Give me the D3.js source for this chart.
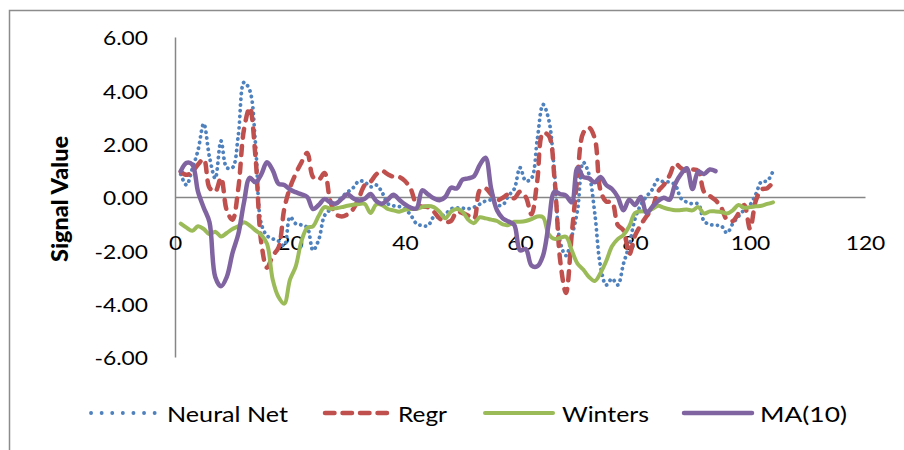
<!DOCTYPE html>
<html>
<head>
<meta charset="utf-8">
<script src="https://cdn.jsdelivr.net/npm/d3@7"></script>
<style>
  body { margin: 0; background: #fff; }
  text { font-family: Lato, "Open Sans", sans-serif; fill: #000; }
</style>
</head>
<body>
<div id="chart"></div>
<script>
// values, one per period (x = 1, 2, 3 ...)
const neuralNet = [
  0.85, 0.45, 1.05, 1.75, 2.75, 1.5, 0.7, 2.1, 1.1, 1.1,
  2.3, 4.3, 4.0, 2.0, -1.0, -1.45, -1.57, -1.65, -1.83, -0.75,
  -1.0, -1.05, -1.15, -2.0, -1.6, -0.7, -0.47, -0.25, 0.0, 0.18,
  0.35, 0.6, 0.56, 0.38, 0.45, 0.18, -0.25, -0.33, -0.36, -0.45,
  -0.68, -1.0, -1.07, -1.08, -0.75, -0.75, -0.65, -0.45, -0.41, -0.42,
  -0.44, -0.38, -0.27, -0.15, -0.12, -0.3, -0.3, 0.05, 0.3, 1.1,
  0.6, 0.7, 2.15, 3.47, 2.9, 0.9, -1.7, -2.2, -1.48, -0.5,
  1.3, 0.85, -0.6, -2.6, -3.3, -3.06, -3.3, -2.5, -1.8, -0.82,
  -0.3, 0.02, 0.28, 0.66, 0.56, 0.56, 0.45, -0.05, -0.19, -0.26,
  -0.26, -0.9, -1.03, -1.06, -1.08, -1.35, -1.0, -0.73, -0.48, -0.3,
  0.1, 0.58, 0.6, 0.97
];

const regr = [
  0.95, 0.83, 0.95, 1.22, 1.42, 0.35, 0.2, 0.72, -0.5, -0.85,
  0.3, 2.54, 3.35, 1.5, -1.7, -2.65, -2.2, -1.9, -0.45, 0.35,
  0.87, 1.3, 1.65, 0.75, 0.65, 0.9, -0.15, -0.65, -0.73, -0.65,
  -0.45, -0.03, 0.45, 0.57, 0.85, 0.98, 0.85, 0.76, 0.75, 0.6,
  0.3, -0.27, -0.36, -0.38, -0.55, -0.8, -0.93, -0.9, -0.55, -0.6,
  -0.7, -0.82, 0.25, 0.32, 0.1, -0.12, -0.03, 0.1, -0.05, 0.2,
  0.0, -0.65, 0.6, 2.4, 2.3, 0.7, -2.4, -3.6, -1.4, 0.75,
  2.4, 2.6, 2.2, 0.25, -0.17, -0.19, -1.05, -1.25, -2.15, -1.45,
  -1.05, -0.72, -0.43, 0.2, 0.45, 0.8, 1.25, 1.08, 0.97, 1.03,
  0.98, 0.2, 0.04, -0.12, -0.4, -0.85, -0.9, -0.62, -0.3, -1.19,
  -0.15, 0.28, 0.33, 0.55
];

const winters = [
  -1.0, -1.15, -1.27, -1.1, -1.2, -1.4, -1.3, -1.48, -1.35, -1.2,
  -1.1, -0.95, -1.07, -1.25, -1.42, -1.75, -3.1, -3.75, -4.0, -3.1,
  -2.6, -1.65, -1.15, -1.1, -0.7, -0.38, -0.44, -0.42, -0.38, -0.33,
  -0.29, -0.26, -0.26, -0.6, -0.28, -0.3, -0.45, -0.5, -0.55, -0.48,
  -0.45, -0.45, -0.38, -0.34, -0.38, -0.55, -0.8, -0.55, -0.45, -0.55,
  -0.85, -0.98, -0.76, -0.8, -0.85, -0.9, -1.03, -1.05, -0.93, -0.93,
  -0.9, -0.83, -0.73, -0.76, -1.4, -1.57, -1.53, -1.49, -2.0, -2.5,
  -2.72, -3.0, -3.15, -2.85, -2.4, -1.85, -1.58, -1.42, -1.1, -0.6,
  -0.54, -0.54, -0.45, -0.33, -0.4, -0.46, -0.5, -0.49, -0.47, -0.5,
  -0.38, -0.62, -0.54, -0.54, -0.56, -0.62, -0.5, -0.3, -0.4, -0.38,
  -0.35, -0.33, -0.26, -0.2
];

const ma10 = [
  0.97, 1.28, 1.22, 0.2, -0.4, -0.95, -3.0, -3.35, -3.0, -2.1,
  -1.4, -0.2, 0.72, 0.55, 0.85, 1.3, 1.0, 0.5, 0.45, 0.28,
  0.18, 0.1, 0.0, -0.45, -0.3, -0.08, -0.2, -0.25, -0.07, 0.1,
  -0.05, -0.13, -0.07, 0.11, -0.15, -0.25, -0.1, 0.08, -0.1, -0.28,
  -0.4, -0.43, 0.25, 0.1, -0.05, -0.12, 0.0, 0.35, 0.32, 0.65,
  0.7, 0.78, 1.2, 1.47, 0.3, -0.5, -0.8, -0.92, -1.05, -2.0,
  -1.95, -2.57, -2.6, -2.2, -1.0, 0.2, 0.11, 0.05, -0.2, 1.1,
  0.75, 0.7, 0.55, 0.75, 0.45, 0.3, 0.0, -0.5, -0.1, -0.3,
  0.0, -0.6, -0.37, -0.15, -0.03, -0.1, 0.5, 0.86, 1.08, 0.3,
  0.95, 0.86, 1.03, 0.97
];

const seriesNames = ["Neural Net", "Regr", "Winters", "MA(10)"];
const yTicks = [6, 4, 2, 0, -2, -4, -6];
const xTicks = [0, 20, 40, 60, 80, 100, 120];
const yTitle = "Signal Value";

// layout
const width = 904;
const height = 450;
const x0 = 175, x1 = 865;
const yTop = 37, yBottom = 357;

const x = d3.scaleLinear().domain([0, 120]).range([x0, x1]);
const y = d3.scaleLinear().domain([-6, 6]).range([yBottom, yTop]);

const series = [
  { name: seriesNames[0], values: neuralNet, color: "#4F81BD", width: 3.8, dash: "0.1 5.6", legendDash: "0.1 10.5" },
  { name: seriesNames[1], values: regr, color: "#C0504D", width: 4.5, dash: "9 8.5", legendDash: "9.5 8" },
  { name: seriesNames[2], values: winters, color: "#9BBB59", width: 4, dash: null, legendDash: null },
  { name: seriesNames[3], values: ma10, color: "#8064A2", width: 4.5, dash: null, legendDash: null }
];

const svg = d3.select("#chart").append("svg")
  .attr("width", width)
  .attr("height", height)
  .attr("viewBox", [0, 0, width, height]);

// outer chart border (cut off on the right / bottom)
svg.append("rect")
  .attr("x", 9.5).attr("y", 10.5)
  .attr("width", 1000).attr("height", 1000)
  .attr("fill", "none")
  .attr("stroke", "#8c8c8c")
  .attr("stroke-width", 1.5);

// y axis, labels right-aligned at x = 148
const yAxis = svg.append("g")
  .attr("transform", `translate(${x0},0)`)
  .call(d3.axisLeft(y).tickValues(yTicks).tickSize(0).tickPadding(0).tickFormat(d => d.toFixed(2)));
yAxis.select(".domain").attr("stroke", "#868686").attr("stroke-width", 1.5);
yAxis.selectAll(".tick text")
  .attr("x", null).attr("dy", null)
  .attr("text-anchor", "end")
  .attr("dominant-baseline", "central")
  .attr("transform", `translate(${148 - x0},0) scale(1.2,1)`)
  .style("font-size", "19px")
  .style("font-family", "Lato, sans-serif");

// x axis at zero
const xAxis = svg.append("g")
  .attr("transform", `translate(0,${y(0)})`)
  .call(d3.axisBottom(x).tickValues(xTicks).tickSize(0).tickPadding(0).tickFormat(d3.format("d")));
xAxis.select(".domain").attr("stroke", "#868686").attr("stroke-width", 1.5);
xAxis.selectAll(".tick text")
  .attr("y", null).attr("dy", null)
  .attr("dominant-baseline", "central")
  .attr("transform", `translate(0,${242 - y(0)}) scale(1.2,1)`)
  .style("font-size", "19px")
  .style("font-family", "Lato, sans-serif");

// y axis title
svg.append("text")
  .attr("transform", "translate(68,199) rotate(-90)")
  .attr("text-anchor", "middle")
  .attr("textLength", 126)
  .attr("lengthAdjust", "spacingAndGlyphs")
  .style("font-size", "22px")
  .style("font-weight", "900")
  .text(yTitle);

// lines
const line = d3.line()
  .x((d, i) => x(i + 1))
  .y(d => y(d))
  .curve(d3.curveCatmullRom.alpha(0.5));

svg.append("g")
  .selectAll("path")
  .data(series)
  .join("path")
  .attr("fill", "none")
  .attr("stroke", d => d.color)
  .attr("stroke-width", d => d.width)
  .attr("stroke-dasharray", d => d.dash)
  .attr("stroke-linecap", "round")
  .attr("stroke-linejoin", "round")
  .attr("d", d => line(d.values));

// legend
const legendY = 413;
const legendPos = [
  { lx: 91, len: 66, tx: 167, tw: 121 },
  { lx: 325, len: 66, tx: 398, tw: 49 },
  { lx: 485, len: 68, tx: 562, tw: 87 },
  { lx: 684, len: 68, tx: 760, tw: 87 }
];

const legend = svg.append("g");
series.forEach((s, i) => {
  const p = legendPos[i];
  legend.append("line")
    .attr("x1", p.lx).attr("x2", p.lx + p.len)
    .attr("y1", legendY).attr("y2", legendY)
    .attr("stroke", s.color)
    .attr("stroke-width", s.width)
    .attr("stroke-dasharray", s.legendDash)
    .attr("stroke-linecap", "round");
  legend.append("text")
    .attr("x", p.tx).attr("y", legendY)
    .attr("dominant-baseline", "central")
    .attr("textLength", p.tw)
    .attr("lengthAdjust", "spacingAndGlyphs")
    .style("font-size", "22px")
    .text(s.name);
});
</script>
</body>
</html>
